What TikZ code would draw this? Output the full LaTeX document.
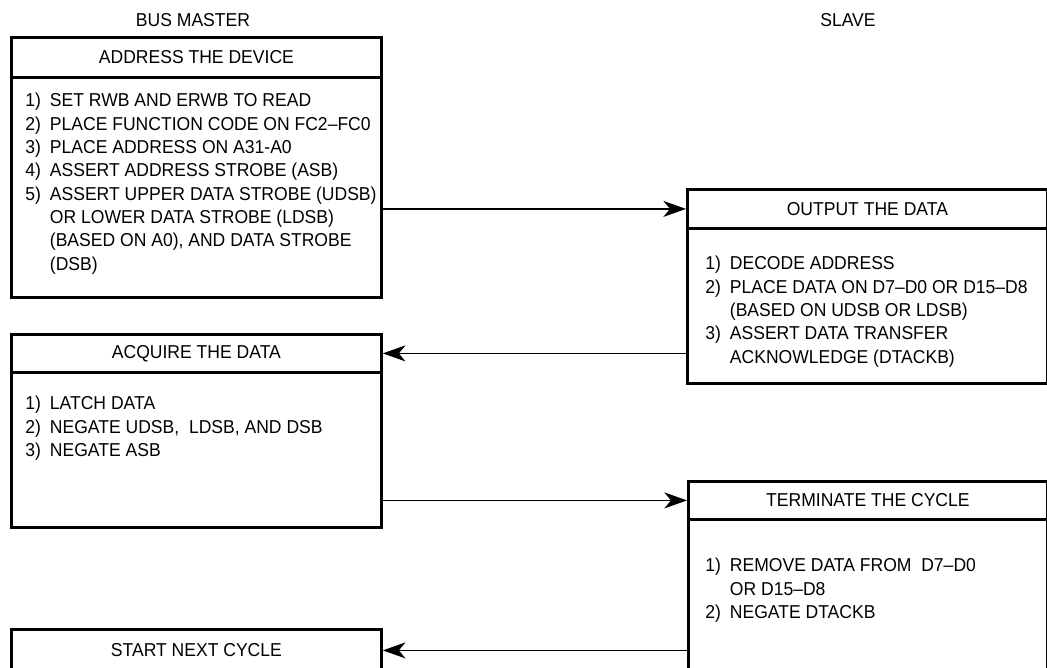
\documentclass[tikz,border=0pt]{standalone}
\usepackage{fontspec}
\setmainfont{Liberation Sans}[FakeStretch=0.94]
\usetikzlibrary{arrows.meta}
\newcommand{\itm}[1]{\makebox[18.5pt][l]{#1}}
\newcommand{\cnt}{\hspace*{18.5pt}}
\begin{document}
\begin{tikzpicture}[x=0.75pt,y=-0.75pt,
  font=\fontsize{14}{17.5}\selectfont,
  boxpart/.style={draw, line width=2.1pt, inner sep=0pt, anchor=north west},
  body/.style={anchor=north west, inner sep=0pt, align=left},
  lbl/.style={inner sep=0pt},
  arr/.style={line width=0.9pt, -{Stealth[length=17pt, width=12pt, inset=5pt]}}]
\useasboundingbox (0,0) rectangle (1047,668);

% column labels
\node[lbl] (bm) at (193,20) {BUS MASTER};
\node[lbl] (sl) at (848,20) {SLAVE};

% box 1
\node[boxpart, minimum width=277.5pt, minimum height=30pt] (b1h) at (10,36) {ADDRESS THE DEVICE};
\node[boxpart, minimum width=277.5pt, minimum height=165pt] (b1b) at (10,76) {};
\node[body] (t1) at (25,93) {\itm{1)}SET RWB AND ERWB TO READ\\
\itm{2)}PLACE FUNCTION CODE ON FC2–FC0\\
\itm{3)}PLACE ADDRESS ON A31-A0\\
\itm{4)}ASSERT ADDRESS STROBE (ASB)\\
\itm{5)}ASSERT UPPER DATA STROBE (UDSB)\\
\cnt OR LOWER DATA STROBE (LDSB)\\
\cnt (BASED ON A0), AND DATA STROBE\\
\cnt (DSB)};

% box 2
\node[boxpart, minimum width=270pt, minimum height=29.25pt] (b2h) at (686,188) {OUTPUT THE DATA};
\node[boxpart, minimum width=270pt, minimum height=116.25pt] (b2b) at (686,227) {};
\node[body] (t2) at (705,256) {\itm{1)}DECODE ADDRESS\\
\itm{2)}PLACE DATA ON D7–D0 OR D15–D8\\
\cnt (BASED ON UDSB OR LDSB)\\
\itm{3)}ASSERT DATA TRANSFER\\
\cnt ACKNOWLEDGE (DTACKB)};

% box 3
\node[boxpart, minimum width=277.5pt, minimum height=28.5pt] (b3h) at (10,333) {ACQUIRE THE DATA};
\node[boxpart, minimum width=277.5pt, minimum height=116.25pt] (b3b) at (10,371) {};
\node[body] (t3) at (25,396) {\itm{1)}LATCH DATA\\
\itm{2)}NEGATE UDSB,\ \ LDSB, AND DSB\\
\itm{3)}NEGATE ASB};

% box 4
\node[boxpart, minimum width=269.25pt, minimum height=28.5pt] (b4h) at (687,480) {TERMINATE THE CYCLE};
\node[boxpart, minimum width=269.25pt, minimum height=136.5pt] (b4b) at (687,518) {};
\node[body] (t4) at (705,558) {\itm{1)}REMOVE DATA FROM\ \ D7–D0\\
\cnt OR D15–D8\\
\itm{2)}NEGATE DTACKB};

% box 5
\node[boxpart, minimum width=277.5pt, minimum height=31.5pt] (b5h) at (10,628) {START NEXT CYCLE};

% connectors
\draw[arr] (b1b.east |- b2h.west) -- (b2h.west);
\draw[arr] (b2b.west |- b3h.east) -- (b3h.east);
\draw[arr] (b3b.east |- b4h.west) -- (b4h.west);
\draw[arr] (b4b.west |- b5h.east) -- (b5h.east);
\end{tikzpicture}
\end{document}
